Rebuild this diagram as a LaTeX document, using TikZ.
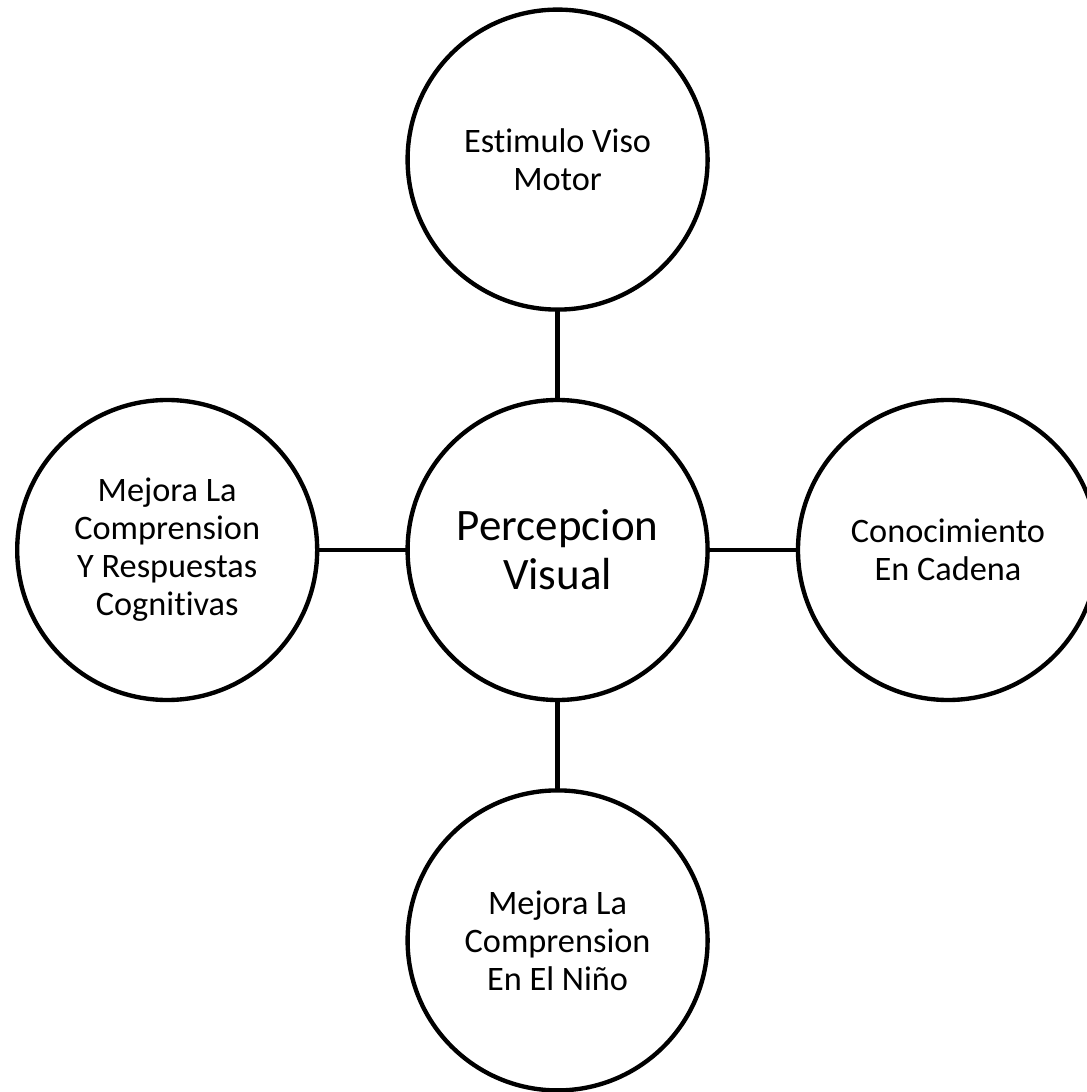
\documentclass[tikz,border=0pt]{standalone}
\usepackage{fontspec}
\setmainfont{Carlito}[Ligatures=NoCommon]
\begin{document}
\begin{tikzpicture}[line join=round, line cap=round, line width=3.1pt,
	circ/.style={draw, circle, minimum size=7.5cm, inner sep=0pt, align=center,
		font=\fontsize{24.4}{27}\selectfont}]
	\useasboundingbox (-13.94,-13.55) rectangle (13.21,13.75);
	\node[circ, font=\fontsize{32}{35}\selectfont] (P) at (0,0) {Percepcion\\Visual};
	\foreach \n/\g/\t in {E/90/{Estimulo Viso\\Motor},
		C/0/{Conocimiento\\En Cadena},
		N/270/{Mejora La\\Comprension\\En El Niño},
		M/180/{Mejora La\\Comprension\\Y Respuestas\\Cognitivas}}{
		\node[circ] (\n) at (\g:9.76) {\t};
		\draw (P)--(\n);
	};
\end{tikzpicture}
\end{document}
